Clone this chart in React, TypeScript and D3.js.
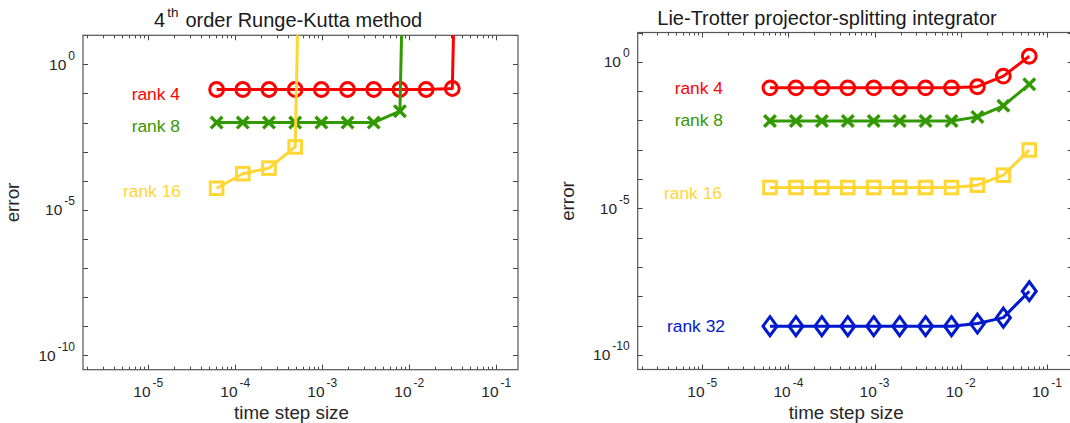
import { useEffect, useRef } from 'react';
import * as d3 from 'd3';

// time step sizes h = 2^-14 ... 2^-4
const stepSizes = [6.1035e-5, 1.2207e-4, 2.4414e-4, 4.8828e-4, 9.7656e-4, 1.9531e-3, 3.9063e-3, 7.8125e-3, 1.5625e-2, 3.125e-2, 6.25e-2];

// Runge-Kutta errors (1e40 = blow-up, null = not computed)
const rkRank4 = [0.137, 0.137, 0.137, 0.137, 0.137, 0.137, 0.137, 0.137, 0.137, 0.148, 1e40];
const rkRank8 = [0.0100, 0.0100, 0.0100, 0.0100, 0.0100, 0.0100, 0.0100, 0.0245, 1e40, null, null];
const rkRank16 = [5.5e-5, 1.74e-4, 2.7e-4, 1.45e-3, 1e40, null, null, null, null, null, null];

// projector-splitting errors
const lieRank4 = [0.129, 0.129, 0.129, 0.129, 0.129, 0.129, 0.129, 0.129, 0.141, 0.324, 1.55];
const lieRank8 = [0.00955, 0.00955, 0.00955, 0.00955, 0.00955, 0.00955, 0.00955, 0.00955, 0.0132, 0.0316, 0.17];
const lieRank16 = [5.13e-5, 5.13e-5, 5.13e-5, 5.13e-5, 5.13e-5, 5.13e-5, 5.13e-5, 5.13e-5, 6.17e-5, 1.35e-4, 9.8e-4];
const lieRank32 = [9.5e-10, 9.5e-10, 9.5e-10, 9.5e-10, 9.5e-10, 9.5e-10, 9.5e-10, 9.5e-10, 1.17e-9, 1.86e-9, 1.48e-8];

const xTickExps = [-5, -4, -3, -2, -1];
const yTickExps = [0, -5, -10];

const RED = '#ff0000';
const GREEN = '#339900';
const YELLOW = '#ffd633';
const BLUE = '#0019cc';
const FONT = '"Liberation Sans", Arial, Helvetica, sans-serif';

type Series = { values: (number | null)[]; color: string; marker: string; label: string; lx: number; ly: number };

function drawPanel(root: any, cfg: any) {
  const { left, top, width, bottom, xMax, series, idx } = cfg;
  const height = bottom - top;
  const x = d3.scaleLog().domain([Math.pow(10, -5.75), xMax]).range([left, left + width]);
  const y = d3.scaleLog().domain([Math.pow(10, -10.5), 10]).range([bottom, top]);

  const g = root.append('g');
  const clipId = 'clip-' + idx;
  g.append('clipPath').attr('id', clipId).append('rect')
    .attr('x', left).attr('y', top).attr('width', width).attr('height', height);

  // ticks: x major + minor on top and bottom, y decades on both sides, all inward
  const [x0, x1] = x.domain();
  const ticks = g.append('g').attr('stroke', '#444').attr('stroke-width', 1);
  for (let e = -7; e <= 1; e++) {
    for (let k = 1; k <= 9; k++) {
      const v = k * Math.pow(10, e);
      if (v < x0 || v > x1) continue;
      const px = Math.round(x(v)) + 0.5;
      const len = k === 1 ? 5 : 3;
      ticks.append('line').attr('x1', px).attr('x2', px).attr('y1', bottom).attr('y2', bottom - len);
      ticks.append('line').attr('x1', px).attr('x2', px).attr('y1', top).attr('y2', top + len);
    }
  }
  for (let e = -10; e <= 1; e++) {
    const py = Math.round(y(Math.pow(10, e))) + 0.5;
    ticks.append('line').attr('x1', left).attr('x2', left + 5).attr('y1', py).attr('y2', py);
    ticks.append('line').attr('x1', left + width).attr('x2', left + width - 5).attr('y1', py).attr('y2', py);
  }

  // box
  g.append('rect').attr('x', left).attr('y', top).attr('width', width).attr('height', height)
    .attr('fill', 'none').attr('stroke', '#555').attr('stroke-width', 1.2);

  // tick labels
  xTickExps.forEach(e => {
    const t = g.append('text').attr('x', x(Math.pow(10, e))).attr('y', 397)
      .attr('text-anchor', 'middle').style('font-family', FONT).style('font-size', '15.5px').attr('fill', '#262626');
    t.append('tspan').text('10');
    t.append('tspan').attr('dx', 2).attr('dy', -10).style('font-size', '12px').text(String(e));
  });
  yTickExps.forEach(e => {
    const t = g.append('text').attr('x', left - 8).attr('y', y(Math.pow(10, e)) + 5.5)
      .attr('text-anchor', 'end').style('font-family', FONT).style('font-size', '15.5px').attr('fill', '#262626');
    t.append('tspan').text('10');
    t.append('tspan').attr('dx', 2).attr('dy', -10).style('font-size', '12px').text(String(e));
  });

  // axis labels
  g.append('text').attr('x', left + width / 2 - 9).attr('y', 419).attr('text-anchor', 'middle')
    .style('font-family', FONT).style('font-size', '18.8px').attr('fill', '#262626').text('time step size');
  g.append('text').attr('transform', `translate(${left - 64},${(top + bottom) / 2}) rotate(-90)`)
    .attr('text-anchor', 'middle').style('font-family', FONT).style('font-size', '18.8px')
    .attr('fill', '#262626').text('error');

  // series
  const plot = g.append('g').attr('clip-path', `url(#${clipId})`);
  series.forEach((s: Series) => {
    const pts = stepSizes.map((h, i) => ({ h, v: s.values[i] })).filter(d => d.v !== null) as { h: number; v: number }[];
    const line = d3.line<{ h: number; v: number }>().x(d => x(d.h)).y(d => y(d.v));
    const sg = plot.append('g');
    sg.append('path').datum(pts).attr('d', line).attr('fill', 'none')
      .attr('stroke', s.color).attr('stroke-width', 3).attr('stroke-linejoin', 'round');
    const mk = pts.filter(d => d.v < 1e10);
    mk.forEach(d => {
      const cx = x(d.h);
      const cy = y(d.v);
      const common = (sel: any) => sel.attr('fill', 'none').attr('stroke', s.color).attr('stroke-width', 3);
      if (s.marker === 'o') {
        common(sg.append('circle').attr('cx', cx).attr('cy', cy).attr('r', 6.9));
      } else if (s.marker === 'x') {
        const r = 5.8;
        common(sg.append('path').attr('d', `M${cx - r},${cy - r}L${cx + r},${cy + r}M${cx - r},${cy + r}L${cx + r},${cy - r}`))
          .attr('stroke-width', 3.4);
      } else if (s.marker === 's') {
        const r = 6.3;
        common(sg.append('rect').attr('x', cx - r).attr('y', cy - r).attr('width', 2 * r).attr('height', 2 * r));
      } else if (s.marker === 'd') {
        const rx = 7;
        const ry = 9.5;
        common(sg.append('path').attr('d', `M${cx},${cy - ry}L${cx + rx},${cy}L${cx},${cy + ry}L${cx - rx},${cy}Z`));
      }
    });
  });

  // rank labels
  series.forEach((s: Series) => {
    g.append('text').attr('x', s.lx).attr('y', s.ly).attr('text-anchor', 'end')
      .style('font-family', FONT).style('font-size', '17.4px').attr('fill', s.color).text(s.label);
  });
}

const App = () => {
  const svgRef = useRef<SVGSVGElement>(null);

  useEffect(() => {
    const root = d3.select(svgRef.current);
    root.selectAll('*').remove();

    drawPanel(root, {
      idx: 0, left: 83, top: 35.3, width: 435, bottom: 369.7, xMax: Math.pow(10, -0.75),
      series: [
        { values: rkRank4, color: RED, marker: 'o', label: 'rank 4', lx: 180, ly: 100 },
        { values: rkRank8, color: GREEN, marker: 'x', label: 'rank 8', lx: 180, ly: 131.5 },
        { values: rkRank16, color: YELLOW, marker: 's', label: 'rank 16', lx: 181, ly: 196.5 },
      ],
    });
    drawPanel(root, {
      idx: 1, left: 637.7, top: 32.5, width: 435, bottom: 369.5, xMax: Math.pow(10, -0.7),
      series: [
        { values: lieRank4, color: RED, marker: 'o', label: 'rank 4', lx: 723, ly: 93.5 },
        { values: lieRank8, color: GREEN, marker: 'x', label: 'rank 8', lx: 723, ly: 126 },
        { values: lieRank16, color: YELLOW, marker: 's', label: 'rank 16', lx: 722, ly: 198.5 },
        { values: lieRank32, color: BLUE, marker: 'd', label: 'rank 32', lx: 725, ly: 332 },
      ],
    });

    // titles
    const t1 = root.append('text').attr('x', 154).attr('y', 27)
      .style('font-family', FONT).style('font-size', '20px').attr('fill', '#1a1a1a');
    t1.append('tspan').text('4');
    t1.append('tspan').attr('dx', 2).attr('dy', -10).style('font-size', '13.5px').text('th');
    t1.append('tspan').attr('dx', 7).attr('dy', 10).text('order Runge-Kutta method');

    root.append('text').attr('x', 657.3).attr('y', 25)
      .style('font-family', FONT).style('font-size', '20px').attr('fill', '#1a1a1a')
      .text('Lie-Trotter projector-splitting integrator');
  }, []);

  return (
    <svg ref={svgRef} width={1070} height={423}
      style={{ position: 'absolute', left: 0, top: 0, background: '#ffffff' }} />
  );
};

export default App;
